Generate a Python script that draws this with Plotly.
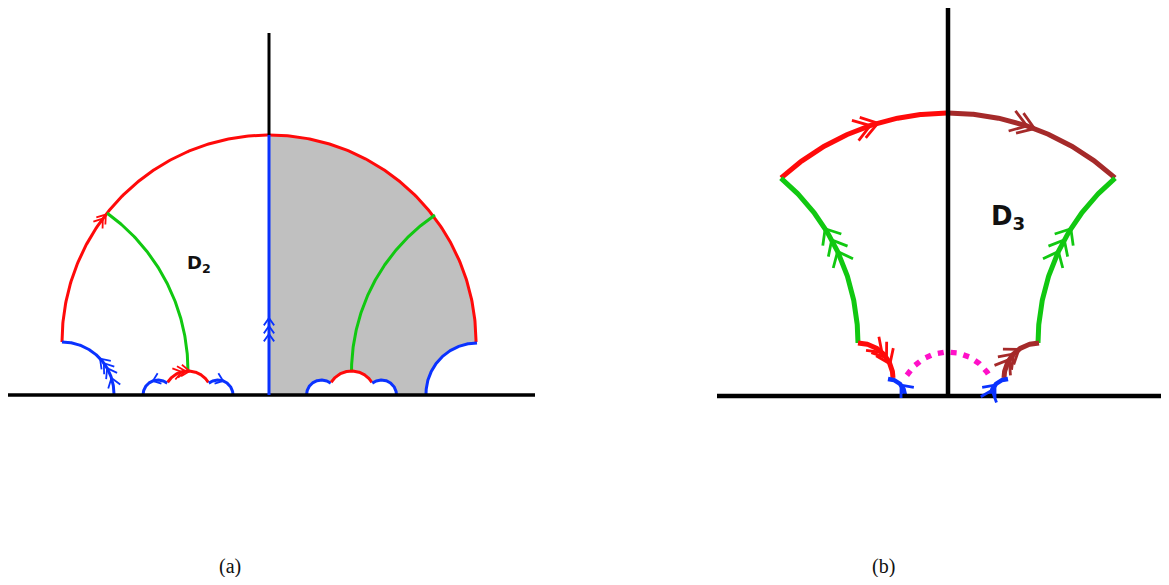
import numpy as np
import plotly.graph_objects as go

# ---------------- geometry data (pixel space of the figure) ----------------
# arcs: (cx, cy, r, angle_start_deg, angle_end_deg)
A_BIG_LEFT = (269, 342, 207, 180, 90)
A_BIG_RIGHT = (269, 342, 207, 90, 0)
A_BLUE_LEFT = (62, 394, 52, 90, 0)
A_BLUE_RIGHT = (477, 394, 51, 90, 180)
A_GREEN_LEFT = (-6.6, 371, 194.6, 54.3, 0)
A_GREEN_RIGHT = (540.8, 372, 189.3, 124, 180)
A_SB1 = (158, 395, 15, 180, 52)
A_SR = (188, 395, 24, 148, 32)
A_SB2 = (218, 395, 15, 128, 0)
SHIFT_RIGHT_GROUP = 163.5

B_TOP_RED = (948, 360, 247, 132.5, 90)
B_TOP_BROWN = (948, 360, 247, 90, 47.5)
B_GREEN_LEFT = (643, 343, 215, 50.1, 0)
B_GREEN_RIGHT = (1253, 343, 215, 129.9, 180)
B_RED_SMALL = (858, 378, 35, 90, 0)
B_BROWN_SMALL = (1039, 378, 35, 90, 180)
B_BLUE_LEFT = (888, 396, 17, 90, 0)
B_BLUE_RIGHT = (1008, 396, 17, 90, 180)
B_MAGENTA = (948, 400, 48, 149, 31)

# straight lines: (x0, y0, x1, y1)
A_BASE = (5, 395, 535, 395)
A_AXIS_BLACK = (269, 33, 269, 135)
A_AXIS_BLUE = (269, 395, 269, 135)
B_BASE = (717, 396, 1162, 396)
B_AXIS = (948, 0, 948, 396)

LABELS = ["<b>D<sub>2</sub></b>", "<b>D<sub>3</sub></b>", "(a)", "(b)"]
LABEL_X = [199, 1008, 230, 883]
LABEL_Y = [264, 217, 566, 566]

RED = "#ff0a0a"
BLUE = "#0a32ff"
GREEN = "#11c811"
BROWN = "#a52a2a"
MAGENTA = "#ff10c8"
GRAY = "#c0c0c0"

# the page body has an 8px margin: compensate so data units equal window pixels
PAGE_MARGIN = 8
WIN_W, WIN_H = 1169, 585


def arc_pts(arc, n=160):
    cx, cy, r, a0, a1 = arc
    t = np.radians(np.linspace(a0, a1, n))
    return cx + r * np.cos(t), cy - r * np.sin(t)


def shifted(arc, dx):
    cx, cy, r, a0, a1 = arc
    return (cx + dx, cy, r, a0, a1)


fig = go.Figure()

# ---- gray region in panel (a) ----
xs, ys = [], []
xs += [A_AXIS_BLUE[0], A_AXIS_BLUE[2]]
ys += [A_AXIS_BLUE[1], A_AXIS_BLUE[3]]
px, py = arc_pts(A_BIG_RIGHT); xs += list(px); ys += list(py)
px, py = arc_pts(A_BLUE_RIGHT); xs += list(px); ys += list(py)
for arc in [A_SB2, A_SR, A_SB1]:
    a = shifted(arc, SHIFT_RIGHT_GROUP)
    px, py = arc_pts((a[0], a[1], a[2], a[4], a[3]))
    xs += list(px); ys += list(py)
xs += [A_AXIS_BLUE[0]]; ys += [A_AXIS_BLUE[1]]
fig.add_trace(go.Scatter(x=xs, y=ys, mode="lines", fill="toself", fillcolor=GRAY,
                         line=dict(width=0, color=GRAY), hoverinfo="skip"))


def add_line(seg, color, width):
    fig.add_trace(go.Scatter(x=[seg[0], seg[2]], y=[seg[1], seg[3]], mode="lines",
                             line=dict(color=color, width=width), hoverinfo="skip"))


def add_arc(arc, color, width, dash=None):
    px, py = arc_pts(arc)
    fig.add_trace(go.Scatter(x=px, y=py, mode="lines",
                             line=dict(color=color, width=width, dash=dash), hoverinfo="skip"))


def chevrons_arc(arc, ang, sign, n, spacing, L, color, width, half=32):
    cx, cy, r, _, _ = arc
    xs, ys = [], []
    step = np.degrees(spacing / r)
    for k in range(n):
        a = ang - sign * k * step
        t = np.radians(a)
        P = np.array([cx + r * np.cos(t), cy - r * np.sin(t)])
        d = sign * np.array([-np.sin(t), -np.cos(t)])
        ends = []
        for s in (1, -1):
            th = np.radians(half) * s
            R = np.array([[np.cos(th), -np.sin(th)], [np.sin(th), np.cos(th)]])
            ends.append(P - L * (R @ d))
        xs += [ends[0][0], P[0], ends[1][0], None]
        ys += [ends[0][1], P[1], ends[1][1], None]
    fig.add_trace(go.Scatter(x=xs, y=ys, mode="lines",
                             line=dict(color=color, width=width), hoverinfo="skip"))


def chevrons_line(x, tips_y, L, color, width, half=32):
    xs, ys = [], []
    th = np.radians(half)
    for ty in tips_y:
        xs += [x - L * np.sin(th), x, x + L * np.sin(th), None]
        ys += [ty + L * np.cos(th), ty, ty + L * np.cos(th), None]
    fig.add_trace(go.Scatter(x=xs, y=ys, mode="lines",
                             line=dict(color=color, width=width), hoverinfo="skip"))


# ---- panel (a) ----
add_arc(A_BIG_LEFT, RED, 3)
add_arc(A_BIG_RIGHT, RED, 3)
add_arc(A_GREEN_LEFT, GREEN, 3)
add_arc(A_GREEN_RIGHT, GREEN, 3)
add_arc(A_BLUE_LEFT, BLUE, 3)
add_arc(A_BLUE_RIGHT, BLUE, 3)
for dx in (0, SHIFT_RIGHT_GROUP):
    add_arc(shifted(A_SB1, dx), BLUE, 3)
    add_arc(shifted(A_SR, dx), RED, 3)
    add_arc(shifted(A_SB2, dx), BLUE, 3)
add_line(A_BASE, "black", 3.5)
add_line(A_AXIS_BLACK, "black", 3)
add_line(A_AXIS_BLUE, BLUE, 3)

chevrons_arc(A_BIG_LEFT, 142, -1, 2, 5, 10, RED, 1.8, half=35)
chevrons_arc(A_BLUE_LEFT, 43, 1, 3, 6, 11, BLUE, 1.8, half=35)
chevrons_arc(A_BLUE_LEFT, 18, 1, 1, 6, 11, BLUE, 1.8, half=35)
chevrons_arc(A_SR, 86, -1, 3, 4, 10, RED, 1.8, half=35)
chevrons_arc(A_SB1, 110, 1, 1, 5, 9, BLUE, 1.8, half=38)
chevrons_arc(A_SB2, 70, -1, 1, 5, 9, BLUE, 1.8, half=38)
chevrons_line(269, [318, 326, 334], 9, BLUE, 1.8, half=35)

# ---- panel (b) ----
add_arc(B_MAGENTA, MAGENTA, 5.5, dash="6px,7px")
add_arc(B_TOP_RED, RED, 5)
add_arc(B_TOP_BROWN, BROWN, 5)
add_arc(B_GREEN_LEFT, GREEN, 5)
add_arc(B_GREEN_RIGHT, GREEN, 5)
add_arc(B_RED_SMALL, RED, 5)
add_arc(B_BROWN_SMALL, BROWN, 5)
add_arc(B_BLUE_LEFT, BLUE, 4.5)
add_arc(B_BLUE_RIGHT, BLUE, 4.5)
add_line(B_BASE, "black", 4.5)
add_line(B_AXIS, "black", 4.5)

chevrons_arc(B_TOP_RED, 106.5, -1, 2, 8, 19, RED, 2.8, half=34)
chevrons_arc(B_TOP_BROWN, 69.5, -1, 2, 8, 19, BROWN, 2.8, half=34)
chevrons_arc(B_GREEN_LEFT, 32.1, 1, 3, 13, 17, GREEN, 2.8, half=40)
chevrons_arc(B_GREEN_RIGHT, 147.9, -1, 3, 13, 17, GREEN, 2.8, half=40)
chevrons_arc(B_RED_SMALL, 24, -1, 3, 7, 16, RED, 2.8, half=36)
chevrons_arc(B_BROWN_SMALL, 125, -1, 3, 7, 16, BROWN, 2.8, half=36)
chevrons_arc(B_BLUE_LEFT, 40, 1, 1, 6, 13, BLUE, 2.8, half=40)
chevrons_arc(B_BLUE_RIGHT, 140, -1, 2, 6, 13, BLUE, 2.8, half=40)

# ---- labels (annotations) ----
FONT_FAMILY = ["DejaVu Sans", "DejaVu Sans", "Liberation Serif", "Liberation Serif"]
FONT_SIZE = [18, 26, 20, 20]
annotations = []
for txt, lx, ly, fam, sz in zip(LABELS, LABEL_X, LABEL_Y, FONT_FAMILY, FONT_SIZE):
    annotations.append(go.layout.Annotation(
        x=lx, y=ly, xref="x", yref="y", text=txt, showarrow=False,
        font=go.layout.annotation.Font(family=fam, size=sz, color="#111111"),
        xanchor="center", yanchor="middle"))

fig_w = WIN_W - 2 * PAGE_MARGIN
fig_h = WIN_H - 2 * PAGE_MARGIN
fig.update_layout(
    width=fig_w, height=fig_h, margin=dict(l=0, r=0, t=0, b=0),
    paper_bgcolor="white", plot_bgcolor="white", showlegend=False,
    font=dict(family="Liberation Serif", size=20, color="#111111"),
    annotations=annotations,
    xaxis=dict(range=[PAGE_MARGIN, PAGE_MARGIN + fig_w], visible=False, fixedrange=True),
    yaxis=dict(range=[PAGE_MARGIN + fig_h, PAGE_MARGIN], visible=False, fixedrange=True),
)
fig.write_html("out.html")
